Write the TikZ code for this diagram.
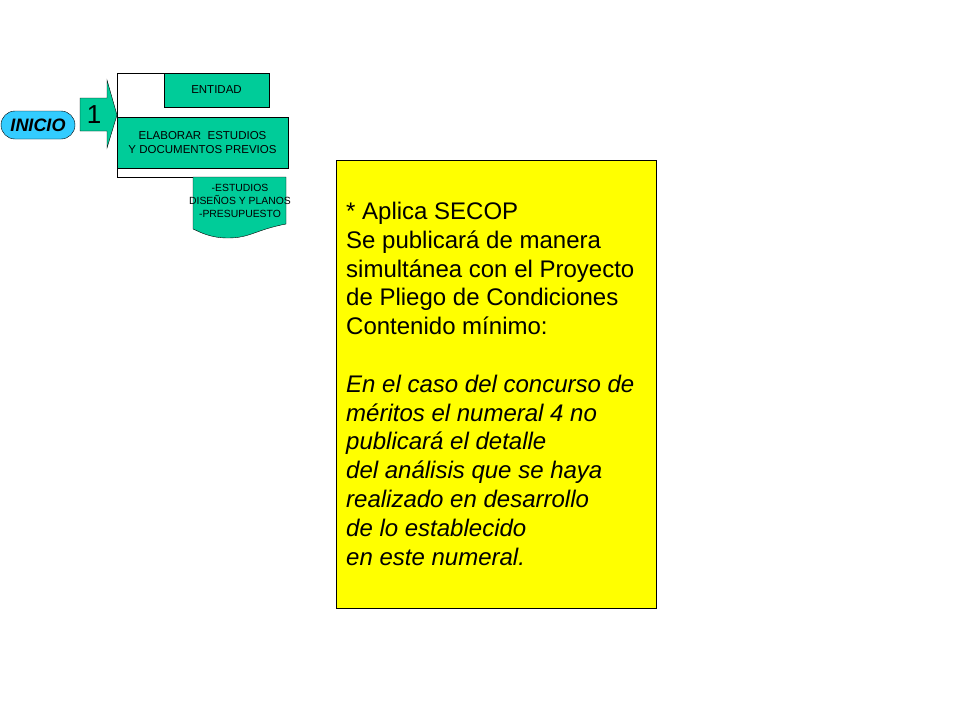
\documentclass[tikz,border=0pt]{standalone}
\usepackage{fontspec}
\setmainfont{Liberation Sans}
\usetikzlibrary{positioning}
\definecolor{verdep}{HTML}{00CC99}
\definecolor{cielo}{HTML}{33CCFF}
\definecolor{amar}{HTML}{FFFF00}

\begin{document}
\begin{tikzpicture}[x=1pt, y=-1pt,
                    caja/.style={draw=black, fill=verdep, inner sep=0pt, align=center, text=black},
                    chico/.style={font=\fontsize{11.5}{14.3}\selectfont}
                ]
                \useasboundingbox (0,0) rectangle (960,720);
                % marco del paso 1
                \draw[black] (193,177) -- (117,177) -- (117,73) -- (164,73);
                \node[caja, chico, minimum width=105pt, minimum height=34pt] (entidad) at (216.5,90) {ENTIDAD};
                \node[caja, chico, minimum width=171pt, minimum height=51pt] (elaborar) at (202.5,142.5) {ELABORAR\ \ ESTUDIOS\\Y DOCUMENTOS PREVIOS};
                % documento
                \draw[black, fill=verdep] (193,177) -- (286,177) -- (286,224)
                    .. controls (255,230) and (250,238) .. (228,238)
                    .. controls (210,238) and (200,232) .. (193,229) -- cycle;
                \node[inner sep=0pt, align=center, font=\fontsize{10.4}{13}\selectfont] (docs) at (240,201) {-ESTUDIOS\\DISEÑOS Y PLANOS\\-PRESUPUESTO};
                % flecha 1
                \draw[black, fill=verdep] (80,98) -- (107,98) -- (107,80) -- (117,115) -- (107,148) -- (107,131) -- (80,131) -- cycle;
                \node[inner sep=0pt, font=\fontsize{26}{30}\selectfont] (uno) at (94,115) {1};
                % inicio
                \node[draw=black, fill=cielo, rounded corners=14pt, minimum width=74pt, minimum height=28pt, inner sep=0pt,
                      font=\fontsize{18}{20}\selectfont\bfseries\itshape] (inicio) at (38,125) {INICIO};
                % nota amarilla
                \node[draw=black, fill=amar, minimum width=320pt, minimum height=448pt, inner sep=0pt] (nota) at (496,384) {};
                \node[anchor=north west, inner sep=0pt, align=left, font=\fontsize{24}{28.8}\selectfont] (texto) at (346,202)
                    {* Aplica SECOP\\Se publicará de manera\\simultánea con el Proyecto\\de Pliego de Condiciones\\Contenido mínimo:\\[28.8pt]
                     \itshape En el caso del concurso de\\\itshape méritos el numeral 4 no\\\itshape publicará el detalle\\\itshape del análisis que se haya\\\itshape realizado en desarrollo\\\itshape de lo establecido\\\itshape en este numeral.};
            \end{tikzpicture}
\end{document}
